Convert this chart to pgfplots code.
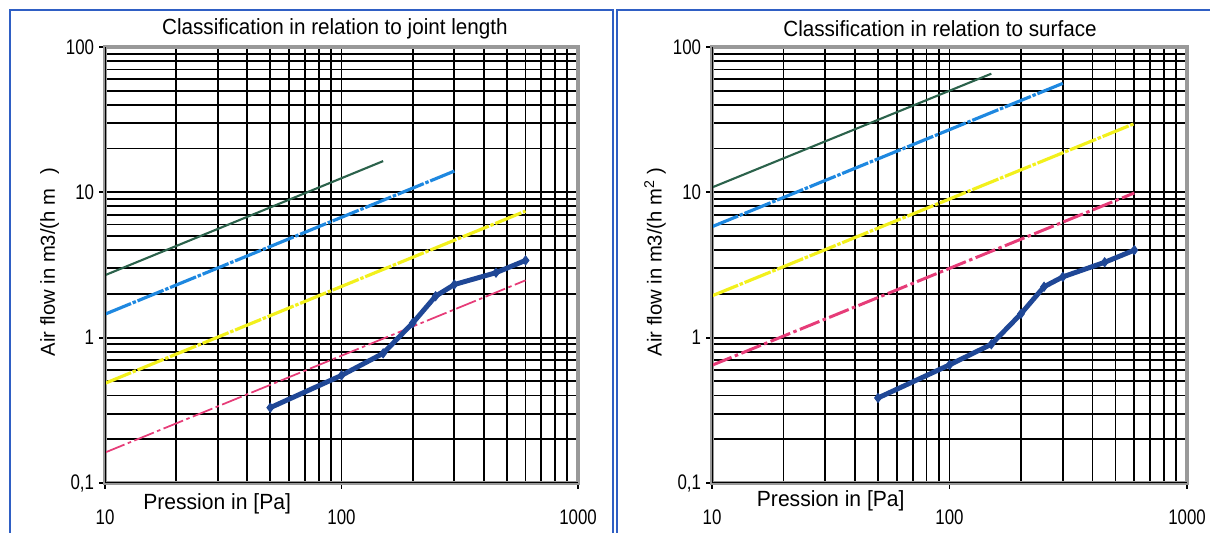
\documentclass[border=0pt]{standalone}
\usepackage{fontspec}
\setmainfont{Liberation Sans}
\usepackage{pgfplots}
\pgfplotsset{compat=1.18}

\definecolor{cgreen}{HTML}{2B624B}
\definecolor{cblue}{HTML}{1E88E0}
\definecolor{cyellow}{HTML}{F2F01C}
\definecolor{cpink}{HTML}{E63C78}
\definecolor{cnavy}{HTML}{1F4796}
\definecolor{cframe}{HTML}{2F5FC4}

\pgfplotsset{
  chart/.style={
    scale only axis, anchor=south west,
    width=9.46cm, height=8.72cm,
    xmin=10, xmax=1000, ymin=0.1, ymax=100,
    grid=both,
    major grid style={black, line width=1.05pt},
    minor grid style={black, line width=1.05pt},
    axis line style={draw=black!40, line width=1.8pt},
    tick align=outside, xtick pos=left, ytick pos=left,
    major tick length=0.12cm, minor tick length=0pt,
    tick style={black, line width=1pt},
    xtick={10,100,1000}, xticklabels={10,100,1000},
    ytick={0.1,1,10,100}, yticklabels={{0,1},1,10,100},
    tick label style={font=\fontsize{12}{14}\selectfont, xscale=0.8},
    xticklabel style={yshift=-0.30cm},
    every axis title/.style={at={(axis description cs:0.486,1)}, anchor=center, yshift=0.36cm,
      font=\fontsize{12.5}{14}\selectfont, xscale=0.94},
    every axis x label/.style={at={(axis description cs:0.237,0)}, anchor=center, yshift=-0.42cm,
      font=\fontsize{12.5}{14}\selectfont, xscale=0.96},
    every axis y label/.style={at={(axis description cs:-0.12,0.507)}, anchor=center, rotate=90,
      font=\fontsize{11.5}{13}\selectfont},
  },
  c1/.style={cgreen, line width=1.2pt},
  c2/.style={cblue, line width=1.8pt, dash pattern=on 16pt off 1pt on 2pt off 1pt},
  c3/.style={cyellow, line width=1.8pt, dash pattern=on 16pt off 1pt on 2pt off 1pt},
  c4/.style={cpink, line width=1pt, dash pattern=on 12pt off 2pt on 2pt off 2pt},
  meas/.style={cnavy, line width=2.8pt, mark=diamond*, mark size=2.6pt, mark options={solid, fill=cnavy, line width=0.5pt}},
}

\begin{document}
\begin{tikzpicture}
% frames
\draw[cframe, line width=1.1pt] (0.2,-0.5) -- (0.2,10.46) -- (12.26,10.46) -- (12.26,-0.5);
\draw[cframe, line width=1.1pt] (12.34,-0.5) -- (12.34,10.46) -- (24.6,10.46);

\begin{loglogaxis}[chart, at={(2.10cm,1.00cm)},
  title={Classification in relation to joint length},
  xlabel={Pression in [Pa]},
  ylabel={Air flow in m3/(h m\phantom{\textsuperscript{2}} )}]
\addplot[c1] coordinates {(10,2.69) (150,16.4)};
\addplot[c2] coordinates {(10,1.45) (300,14.0)};
\addplot[c3] coordinates {(10,0.485) (600,7.43)};
\addplot[c4] coordinates {(10,0.162) (600,2.48)};
\addplot[meas] coordinates {(50,0.33) (100,0.55) (150,0.78) (200,1.26) (250,1.93) (300,2.32) (450,2.80) (600,3.40)};
\draw[black, line width=1.1pt] (rel axis cs:0,1) -- (rel axis cs:0,0) -- (rel axis cs:1,0);
\end{loglogaxis}

\begin{loglogaxis}[chart, at={(14.24cm,1.00cm)}, width=9.50cm,
  title={Classification in relation to surface},
  title style={at={(axis description cs:0.48,1)}},
  xlabel={Pression in [Pa]},
  xlabel style={at={(axis description cs:0.25,0)}, yshift=0.06cm},
  ylabel={Air flow in m3/(h m\textsuperscript{2} )}]
\addplot[c1] coordinates {(10,10.8) (150,65.5)};
\addplot[c2] coordinates {(10,5.8) (300,56.2)};
\addplot[c3] coordinates {(10,1.94) (600,29.7)};
\addplot[c4, line width=1.7pt] coordinates {(10,0.646) (600,9.9)};
\addplot[meas] coordinates {(50,0.385) (100,0.65) (150,0.90) (200,1.46) (250,2.24) (300,2.62) (450,3.30) (600,4.00)};
\draw[black, line width=1.1pt] (rel axis cs:0,1) -- (rel axis cs:0,0) -- (rel axis cs:1,0);
\end{loglogaxis}

\pgfresetboundingbox
\useasboundingbox (0,0) rectangle (24.2,10.66);
\end{tikzpicture}
\end{document}
